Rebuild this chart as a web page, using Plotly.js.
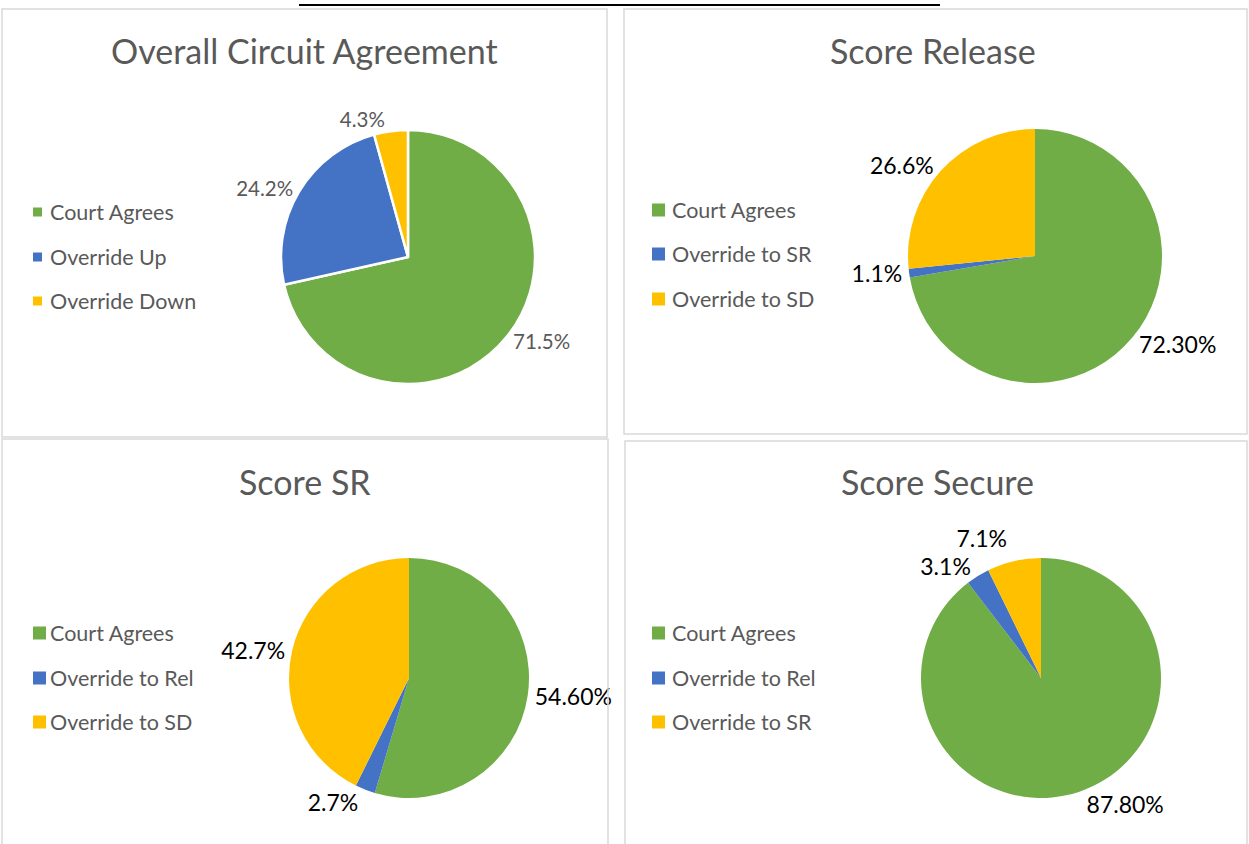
<!DOCTYPE html>
<html><head><meta charset="utf-8">
<script src="https://cdn.plot.ly/plotly-3.0.1.min.js"></script>
<style>html,body{margin:0;padding:0;background:#fff}</style></head><body>
<div id="chart" style="width:1249px;height:844px"></div>
<script>
// ---- data ----
const sliceColors = ['#70AD47', '#4472C4', '#FFC000'];
const titles = ['Overall Circuit Agreement', 'Score Release', 'Score SR', 'Score Secure'];

const overallLabels = ['Court Agrees', 'Override Up', 'Override Down'];
const overallValues = [71.5, 24.2, 4.3];
const overallText = ['71.5%', '24.2%', '4.3%'];

const releaseLabels = ['Court Agrees', 'Override to SR', 'Override to SD'];
const releaseValues = [72.3, 1.1, 26.6];
const releaseText = ['72.30%', '1.1%', '26.6%'];

const srLabels = ['Court Agrees', 'Override to Rel', 'Override to SD'];
const srValues = [54.6, 2.7, 42.7];
const srText = ['54.60%', '2.7%', '42.7%'];

const secureLabels = ['Court Agrees', 'Override to Rel', 'Override to SR'];
const secureValues = [87.8, 3.1, 7.1];
const secureText = ['87.80%', '3.1%', '7.1%'];

// ---- layout helpers ----
const W = 1249, H = 844;
const px = x => x / W;
const py = y => 1 - y / H;
const FONT = 'Lato, "Open Sans", sans-serif';

const panels = [
  {labels: overallLabels, values: overallValues, text: overallText,
   box: [2, 9, 607, 437], c: [408, 257], r: 127, t: [304, 50],
   sq: [33, 9], lx: 48, ly: [212, 257, 301], lab: {size: 20.5, color: '#595959'}, lw: 2.5},
  {labels: releaseLabels, values: releaseValues, text: releaseText,
   box: [624, 9, 1247, 434], c: [1035, 256], r: 127, t: [933, 50],
   sq: [652, 13], lx: 670, ly: [210, 254, 299], lab: {size: 23, color: '#000'}, lw: 0},
  {labels: srLabels, values: srValues, text: srText,
   box: [2, 439, 608, 860], c: [409, 678], r: 120, t: [305, 482],
   sq: [33, 13], lx: 48, ly: [633, 678, 722], lab: {size: 23, color: '#000'}, lw: 0},
  {labels: secureLabels, values: secureValues, text: secureText,
   box: [625, 441, 1247, 860], c: [1041, 678], r: 120, t: [937, 482],
   sq: [652, 13], lx: 670, ly: [633, 678, 722], lab: {size: 23, color: '#000'}, lw: 0}
];

const traces = [], shapes = [], annotations = [];
panels.forEach((p, i) => {
  traces.push({
    type: 'pie', labels: p.labels, values: p.values, text: p.text,
    textinfo: 'text', textposition: 'outside', sort: false, direction: 'clockwise',
    rotation: 0, showlegend: false, hoverinfo: 'label+percent',
    marker: {colors: sliceColors, line: {color: '#fff', width: p.lw}},
    outsidetextfont: {family: FONT, size: p.lab.size, color: p.lab.color},
    domain: {x: [px(p.c[0] - p.r), px(p.c[0] + p.r)], y: [py(p.c[1] + p.r), py(p.c[1] - p.r)]}
  });
  shapes.push({type: 'rect', xref: 'paper', yref: 'paper',
    x0: px(p.box[0]), x1: px(p.box[2]), y0: py(p.box[3]), y1: py(p.box[1]),
    line: {color: '#d9d9d9', width: 1.5}, fillcolor: 'rgba(0,0,0,0)'});
  annotations.push({text: titles[i], xref: 'paper', yref: 'paper', x: px(p.t[0]), y: py(p.t[1]),
    xanchor: 'center', yanchor: 'middle', showarrow: false,
    font: {family: FONT, size: 34, color: '#595959'}});
  p.labels.forEach((lab, k) => {
    const s = p.sq[1], y = p.ly[k];
    shapes.push({type: 'rect', xref: 'paper', yref: 'paper',
      x0: px(p.sq[0]), x1: px(p.sq[0] + s), y0: py(y + s / 2), y1: py(y - s / 2),
      line: {width: 0}, fillcolor: sliceColors[k]});
    annotations.push({text: lab, xref: 'paper', yref: 'paper', x: px(p.lx), y: py(y),
      xanchor: 'left', yanchor: 'middle', showarrow: false,
      font: {family: FONT, size: 21.5, color: '#595959'}});
  });
});
// cropped heading underline at top of page
shapes.push({type: 'line', xref: 'paper', yref: 'paper', x0: px(299), x1: px(940), y0: py(5), y1: py(5),
  line: {color: '#000', width: 2}});

Plotly.newPlot('chart', traces, {
  width: W, height: H, margin: {l: 0, r: 0, t: 0, b: 0},
  paper_bgcolor: '#fff', plot_bgcolor: '#fff', showlegend: false,
  font: {family: FONT}, shapes, annotations
}, {displayModeBar: false, staticPlot: true}).then(gd => {
  // the reference shows no leader lines for outside labels
  gd.querySelectorAll('path.textline').forEach(el => el.remove());
});
</script></body></html>
